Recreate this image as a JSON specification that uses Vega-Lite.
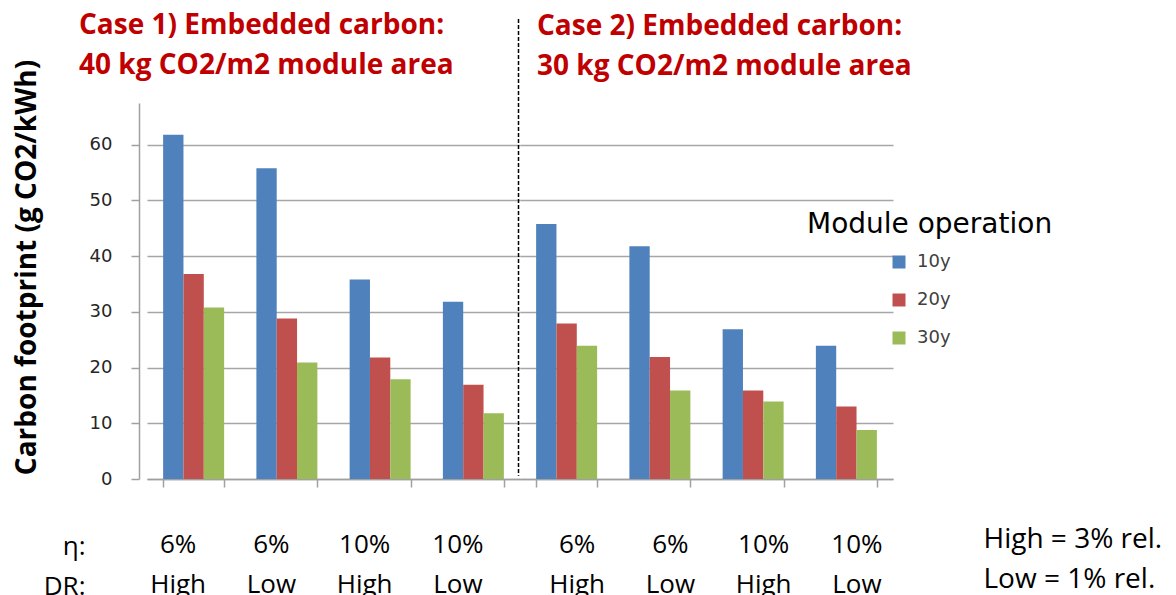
{
  "$schema": "https://vega.github.io/schema/vega-lite/v6.json",
  "background": "white",
  "padding": {"left": 12, "top": 12, "right": 5, "bottom": 0},
  "config": {"view": {"stroke": null}, "font": "Open Sans"},
  "data": {"values": [
    {"case": "Case 1", "cat": "6%|High", "dur": "10y", "value": 61.8},
    {"case": "Case 1", "cat": "6%|High", "dur": "20y", "value": 36.8},
    {"case": "Case 1", "cat": "6%|High", "dur": "30y", "value": 30.8},
    {"case": "Case 1", "cat": "6%|Low", "dur": "10y", "value": 55.8},
    {"case": "Case 1", "cat": "6%|Low", "dur": "20y", "value": 28.8},
    {"case": "Case 1", "cat": "6%|Low", "dur": "30y", "value": 20.9},
    {"case": "Case 1", "cat": "10%|High", "dur": "10y", "value": 35.8},
    {"case": "Case 1", "cat": "10%|High", "dur": "20y", "value": 21.8},
    {"case": "Case 1", "cat": "10%|High", "dur": "30y", "value": 17.9},
    {"case": "Case 1", "cat": "10%|Low", "dur": "10y", "value": 31.8},
    {"case": "Case 1", "cat": "10%|Low", "dur": "20y", "value": 16.9},
    {"case": "Case 1", "cat": "10%|Low", "dur": "30y", "value": 11.8},
    {"case": "Case 2", "cat": "6%|High", "dur": "10y", "value": 45.8},
    {"case": "Case 2", "cat": "6%|High", "dur": "20y", "value": 27.9},
    {"case": "Case 2", "cat": "6%|High", "dur": "30y", "value": 23.9},
    {"case": "Case 2", "cat": "6%|Low", "dur": "10y", "value": 41.8},
    {"case": "Case 2", "cat": "6%|Low", "dur": "20y", "value": 21.9},
    {"case": "Case 2", "cat": "6%|Low", "dur": "30y", "value": 15.9},
    {"case": "Case 2", "cat": "10%|High", "dur": "10y", "value": 26.9},
    {"case": "Case 2", "cat": "10%|High", "dur": "20y", "value": 15.9},
    {"case": "Case 2", "cat": "10%|High", "dur": "30y", "value": 13.9},
    {"case": "Case 2", "cat": "10%|Low", "dur": "10y", "value": 23.9},
    {"case": "Case 2", "cat": "10%|Low", "dur": "20y", "value": 13.0},
    {"case": "Case 2", "cat": "10%|Low", "dur": "30y", "value": 8.8}
  ]},
  "spacing": 0,
  "bounds": "flush",
  "hconcat": [
    {
      "width": 373,
      "height": 376,
      "title": {
        "text": ["Case 1) Embedded carbon:", "40 kg CO2/m2 module area"],
        "anchor": "start", "frame": "group", "dx": -68,
        "font": "Open Sans", "fontSize": 28, "fontWeight": "bold", "color": "#C00000",
        "lineHeight": 40, "baseline": "alphabetic", "offset": -84
      },
      "layer": [
        {
          "transform": [{"filter": "datum.case == 'Case 1'"}],
          "mark": {"type": "bar"},
          "encoding": {
            "x": {
              "field": "cat", "type": "nominal",
              "sort": ["6%|High", "6%|Low", "10%|High", "10%|Low"],
              "scale": {"paddingInner": 0.346, "paddingOuter": 0.173},
              "axis": {
                "labelExpr": "datum.value ? split(datum.value, '|') : ''",
                "labelAngle": 0, "labelFont": "Open Sans", "labelFontSize": 26, "labelColor": "black",
                "labelLineHeight": 40, "labelBaseline": "top", "labelPadding": 44, "labelOffset": -16,
                "tickBand": "extent", "tickSize": 8, "tickColor": "#A0A0A0", "tickWidth": 1.5,
                "domainColor": "#A0A0A0", "domainWidth": 1.5,
                "title": ["η:", "DR:"], "titleX": -62, "titleY": 54, "titleAlign": "right",
                "titleBaseline": "top", "titleFont": "Open Sans", "titleFontSize": 26,
                "titleFontWeight": "normal", "titleColor": "black", "titleLineHeight": 40
              }
            },
            "xOffset": {"field": "dur", "type": "nominal", "sort": ["10y", "20y", "30y"]},
            "y": {
              "field": "value", "type": "quantitative",
              "scale": {"domain": [0, 67.5], "nice": false},
              "axis": {
                "values": [0, 10, 20, 30, 40, 50, 60],
                "offset": 8, "tickSize": 8, "tickColor": "#A0A0A0", "tickWidth": 1.5,
                "labelPadding": 19, "labelFont": "DejaVu Sans", "labelFontSize": 18, "labelColor": "#262626",
                "domainColor": "#A0A0A0", "domainWidth": 1.5,
                "gridColor": "#A6A6A6", "gridWidth": 1.4,
                "title": "Carbon footprint (g CO2/kWh)",
                "titleFont": "Open Sans", "titleFontSize": 28, "titleFontWeight": "bold", "titleColor": "black",
                "titleX": -104, "titleY": 164, "titleBaseline": "alphabetic", "titleAlign": "center"
              }
            },
            "color": {
              "field": "dur", "type": "nominal",
              "scale": {"domain": ["10y", "20y", "30y"], "range": ["#4F81BD", "#C0504D", "#9BBB59"]},
              "legend": {
                "orient": "none", "legendX": 660, "legendY": 108,
                "title": "Module operation", "titleFont": "DejaVu Sans", "titleFontSize": 28,
                "titleFontWeight": "normal", "titleColor": "black", "titlePadding": 14, "titleLimit": 400,
                "labelFont": "DejaVu Sans", "labelFontSize": 18, "labelColor": "#404040",
                "symbolType": "square", "symbolSize": 169, "symbolStrokeWidth": 0, "symbolOpacity": 1,
                "symbolOffset": 83, "rowPadding": 20, "labelOffset": 9
              }
            }
          }
        },
        {
          "data": {"values": [{}]},
          "mark": {"type": "rule", "color": "black", "strokeDash": [4, 2], "strokeWidth": 1.5},
          "encoding": {
            "x": {"datum": "10%|Low", "type": "nominal", "bandPosition": 1.24},
            "y": {"datum": 82.6, "type": "quantitative"},
            "y2": {"datum": 0.6}
          }
        }
      ]
    },
    {
      "width": 373,
      "height": 376,
      "title": {
        "text": ["Case 2) Embedded carbon:", "30 kg CO2/m2 module area"],
        "anchor": "start", "frame": "group", "dx": 17,
        "font": "Open Sans", "fontSize": 28, "fontWeight": "bold", "color": "#C00000",
        "lineHeight": 40, "baseline": "alphabetic", "offset": 0
      },
      "transform": [{"filter": "datum.case == 'Case 2'"}],
      "mark": {"type": "bar"},
      "encoding": {
        "x": {
          "field": "cat", "type": "nominal",
          "sort": ["6%|High", "6%|Low", "10%|High", "10%|Low"],
          "scale": {"paddingInner": 0.346, "paddingOuter": 0.173},
          "axis": {
            "labelExpr": "datum.value ? split(datum.value, '|') : ''",
            "labelAngle": 0, "labelFont": "Open Sans", "labelFontSize": 26, "labelColor": "black",
            "labelLineHeight": 40, "labelBaseline": "top", "labelPadding": 44, "labelOffset": 10,
            "tickBand": "extent", "tickSize": 8, "tickColor": "#A0A0A0", "tickWidth": 1.5,
            "domainColor": "#A0A0A0", "domainWidth": 1.5,
            "title": ["High = 3% rel.", "Low = 1% rel."], "titleX": 463, "titleY": 46, "titleAlign": "left",
            "titleBaseline": "top", "titleFont": "Open Sans", "titleFontSize": 28,
            "titleFontWeight": "normal", "titleColor": "black", "titleLineHeight": 40
          }
        },
        "xOffset": {"field": "dur", "type": "nominal", "sort": ["10y", "20y", "30y"]},
        "y": {
          "field": "value", "type": "quantitative",
          "scale": {"domain": [0, 67.5], "nice": false},
          "axis": {
            "values": [0, 10, 20, 30, 40, 50, 60],
            "labels": false, "ticks": false, "domain": false, "title": null,
            "gridColor": "#A6A6A6", "gridWidth": 1.4
          }
        },
        "color": {
          "field": "dur", "type": "nominal",
          "scale": {"domain": ["10y", "20y", "30y"], "range": ["#4F81BD", "#C0504D", "#9BBB59"]},
          "legend": {
            "orient": "none", "legendX": 660, "legendY": 108,
            "title": "Module operation", "titleFont": "DejaVu Sans", "titleFontSize": 28,
            "titleFontWeight": "normal", "titleColor": "black", "titlePadding": 14, "titleLimit": 400,
            "labelFont": "DejaVu Sans", "labelFontSize": 18, "labelColor": "#404040",
            "symbolType": "square", "symbolSize": 169, "symbolStrokeWidth": 0, "symbolOpacity": 1,
            "symbolOffset": 83, "rowPadding": 20, "labelOffset": 9
          }
        }
      }
    }
  ]
}
